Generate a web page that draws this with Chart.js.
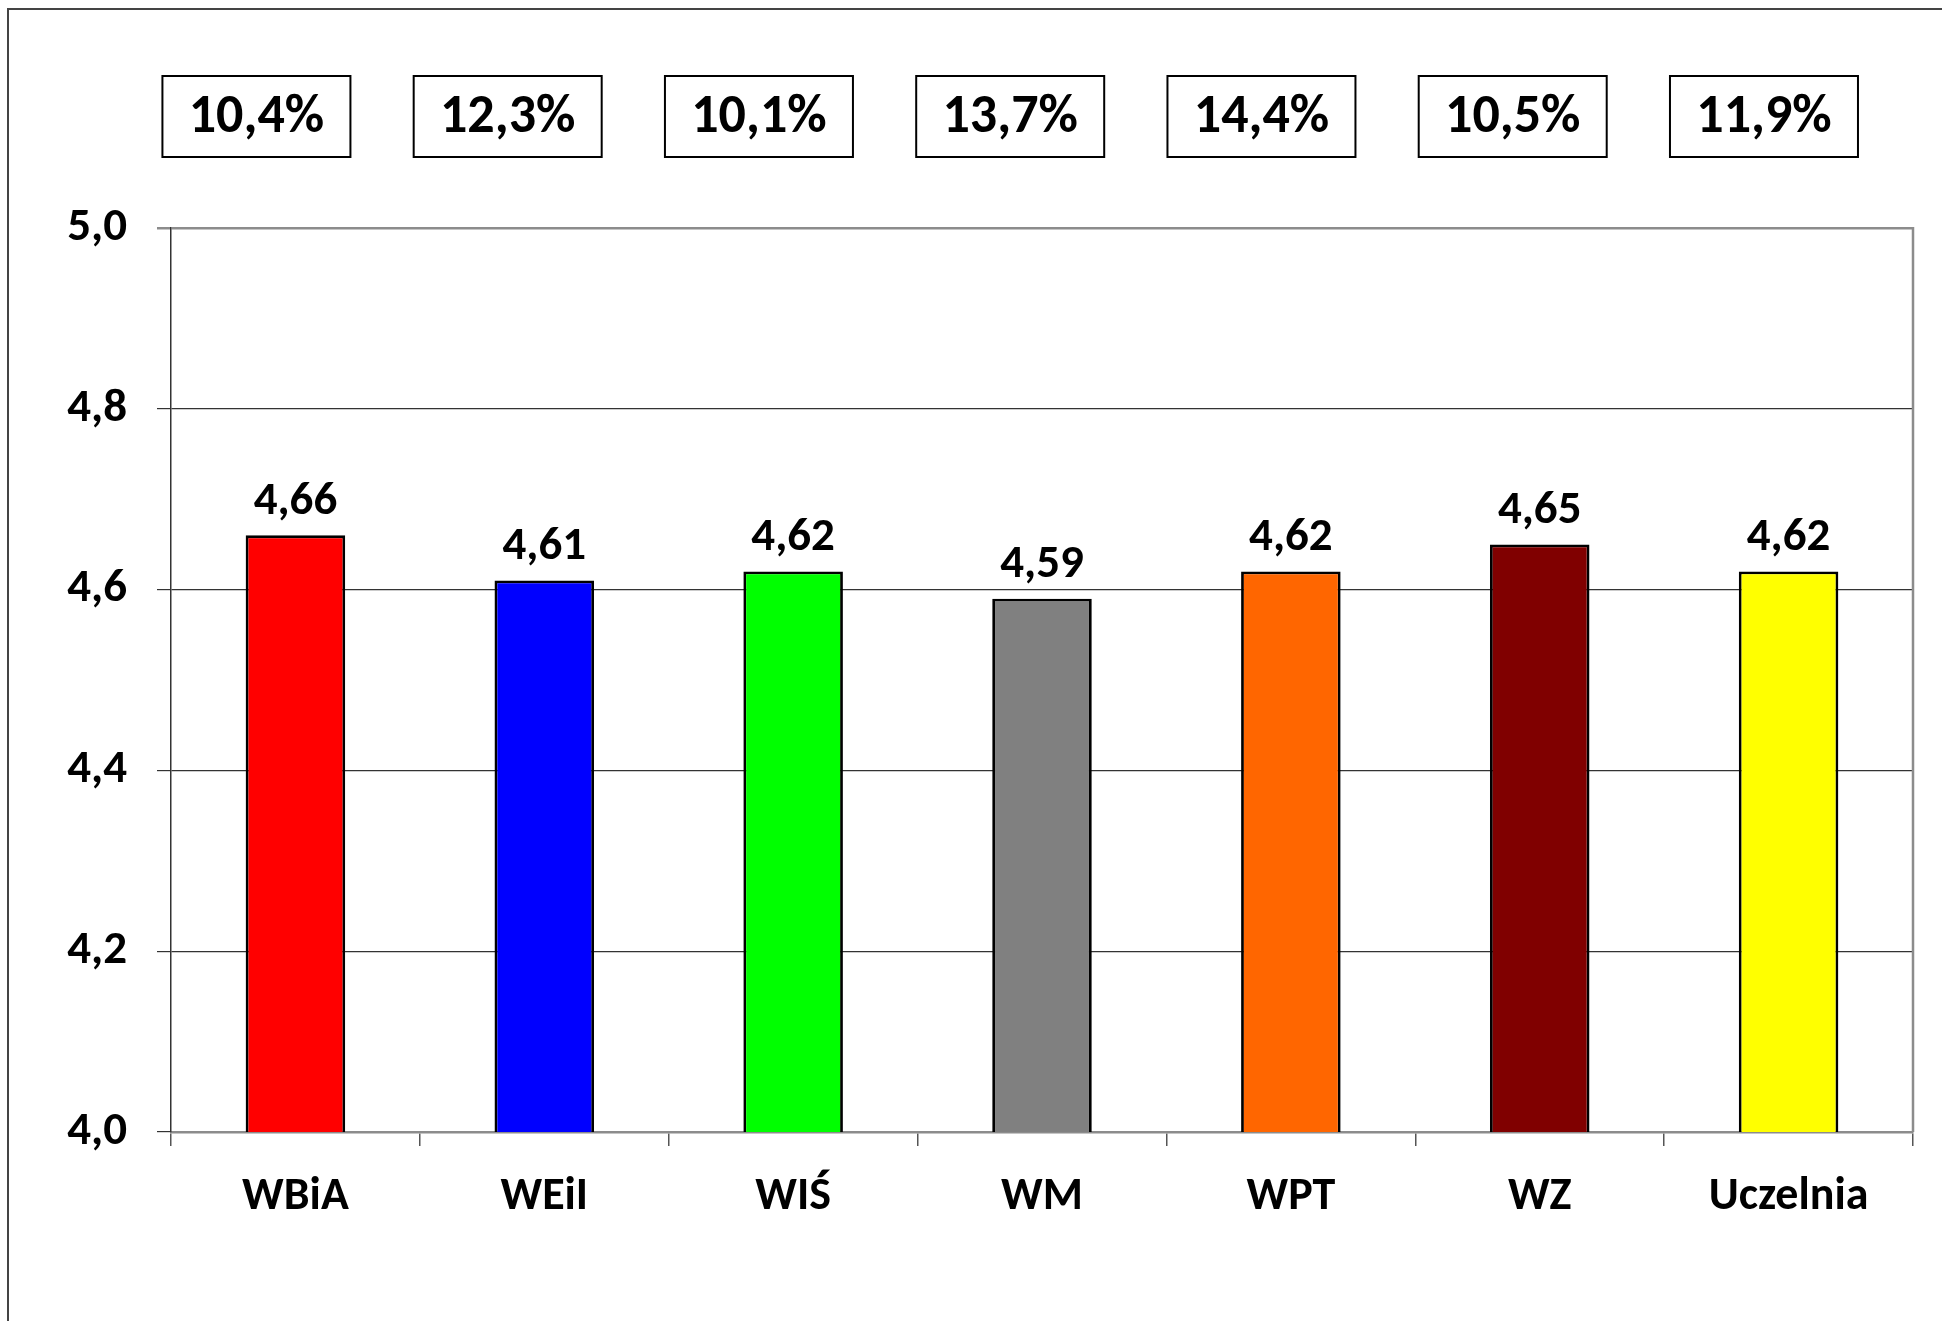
<!DOCTYPE html>
<html lang="pl">
<head>
    <meta charset="UTF-8">
    <title>Średnia ocena - wydziały</title>
    <script src="https://cdn.jsdelivr.net/npm/chart.js"></script>
    <style>
        body {
            margin: 0;
            background: #ffffff;
        }
        canvas {
            display: block;
        }
    </style>
</head>
<body>
    <canvas id="ocenyChart" width="1942" height="1321"></canvas>

    <script>
        // Dane wykresu
        const wydzialy = ['WBiA', 'WEiI', 'WIŚ', 'WM', 'WPT', 'WZ', 'Uczelnia'];
        const srednie = [4.66, 4.61, 4.62, 4.59, 4.62, 4.65, 4.62];
        const procenty = [10.4, 12.3, 10.1, 13.7, 14.4, 10.5, 11.9];
        const kolory = ['#FF0000', '#0000FF', '#00FF00', '#808080', '#FF6600', '#800000', '#FFFF00'];
        const osY = { min: 4.0, max: 5.0, krok: 0.2 };

        const FONT = 'Carlito, Lato, "Open Sans", sans-serif';
        const przecinek = (v, d) => v.toFixed(d).replace('.', ',');

        // ramka wokół całego wykresu
        const ramka = {
            id: 'ramka',
            beforeDraw(chart) {
                const c = chart.ctx;
                c.save();
                c.strokeStyle = '#444444';
                c.lineWidth = 2;
                c.strokeRect(8, 9, 2100, 2100);
                c.restore();
            }
        };

        // prawa krawędź obszaru wykresu
        const prawaKrawedz = {
            id: 'prawaKrawedz',
            afterDraw(chart) {
                const a = chart.chartArea;
                const c = chart.ctx;
                c.save();
                c.strokeStyle = '#8c8c8c';
                c.lineWidth = 2.5;
                c.beginPath();
                c.moveTo(a.right, a.top - 1);
                c.lineTo(a.right, a.bottom);
                c.stroke();
                c.restore();
            }
        };

        // etykiety wartości nad słupkami
        const etykiety = {
            id: 'etykiety',
            afterDatasetsDraw(chart) {
                const c = chart.ctx;
                const meta = chart.getDatasetMeta(0);
                c.save();
                c.font = '900 47px ' + FONT;
                c.fillStyle = '#000000';
                c.textAlign = 'center';
                c.textBaseline = 'middle';
                meta.data.forEach((bar, i) => {
                    c.fillText(przecinek(srednie[i], 2), bar.x, bar.y - 33);
                });
                c.restore();
            }
        };

        // ramki z procentami u góry
        const ramkiProcent = {
            id: 'ramkiProcent',
            afterDraw(chart) {
                const c = chart.ctx;
                const x = chart.scales.x;
                c.save();
                c.font = '900 54px ' + FONT;
                c.textAlign = 'center';
                c.textBaseline = 'middle';
                procenty.forEach((p, i) => {
                    const cx = x.getPixelForValue(i) - 39 + i * 2.4;
                    const w = 188, h = 81, top = 76;
                    c.fillStyle = '#ffffff';
                    c.fillRect(cx - w / 2, top, w, h);
                    c.strokeStyle = '#000000';
                    c.lineWidth = 2;
                    c.strokeRect(cx - w / 2, top, w, h);
                    c.fillStyle = '#000000';
                    c.fillText(przecinek(p, 1) + '%', cx, top + h / 2 + 2);
                });
                c.restore();
            }
        };

        const ctx = document.getElementById('ocenyChart').getContext('2d');

        new Chart(ctx, {
            type: 'bar',
            data: {
                labels: wydzialy,
                datasets: [{
                    data: srednie,
                    backgroundColor: kolory,
                    borderColor: '#000000',
                    borderWidth: 2.8,
                    borderSkipped: false,
                    categoryPercentage: 1.0,
                    barPercentage: 0.4
                }]
            },
            options: {
                responsive: false,
                animation: false,
                layout: {
                    padding: { left: 0, top: 228, right: 29, bottom: 0 }
                },
                plugins: {
                    legend: { display: false },
                    tooltip: { enabled: false }
                },
                scales: {
                    x: {
                        afterFit(scale) { scale.height = 189; },
                        grid: {
                            offset: true,
                            drawOnChartArea: false,
                            tickLength: 14,
                            color: '#555555',
                            lineWidth: 1.5
                        },
                        border: { color: '#8c8c8c', width: 2.5 },
                        ticks: {
                            color: '#000000',
                            padding: 24,
                            font: { family: FONT, size: 46, weight: '900' }
                        }
                    },
                    y: {
                        min: osY.min,
                        max: osY.max,
                        afterFit(scale) { scale.width = 171; },
                        grid: {
                            tickLength: 14,
                            color: (c) => (c.tick && c.tick.value >= osY.max - 1e-9) ? '#8c8c8c' : '#333333',
                            lineWidth: (c) => (c.tick && c.tick.value >= osY.max - 1e-9) ? 2.5 : 1.2
                        },
                        border: { color: '#333333', width: 1.5 },
                        ticks: {
                            stepSize: osY.krok,
                            color: '#000000',
                            padding: 30,
                            font: { family: FONT, size: 47, weight: '900' },
                            callback: (v) => przecinek(v, 1)
                        }
                    }
                }
            },
            plugins: [ramka, prawaKrawedz, etykiety, ramkiProcent]
        });
    </script>
</body>
</html>
